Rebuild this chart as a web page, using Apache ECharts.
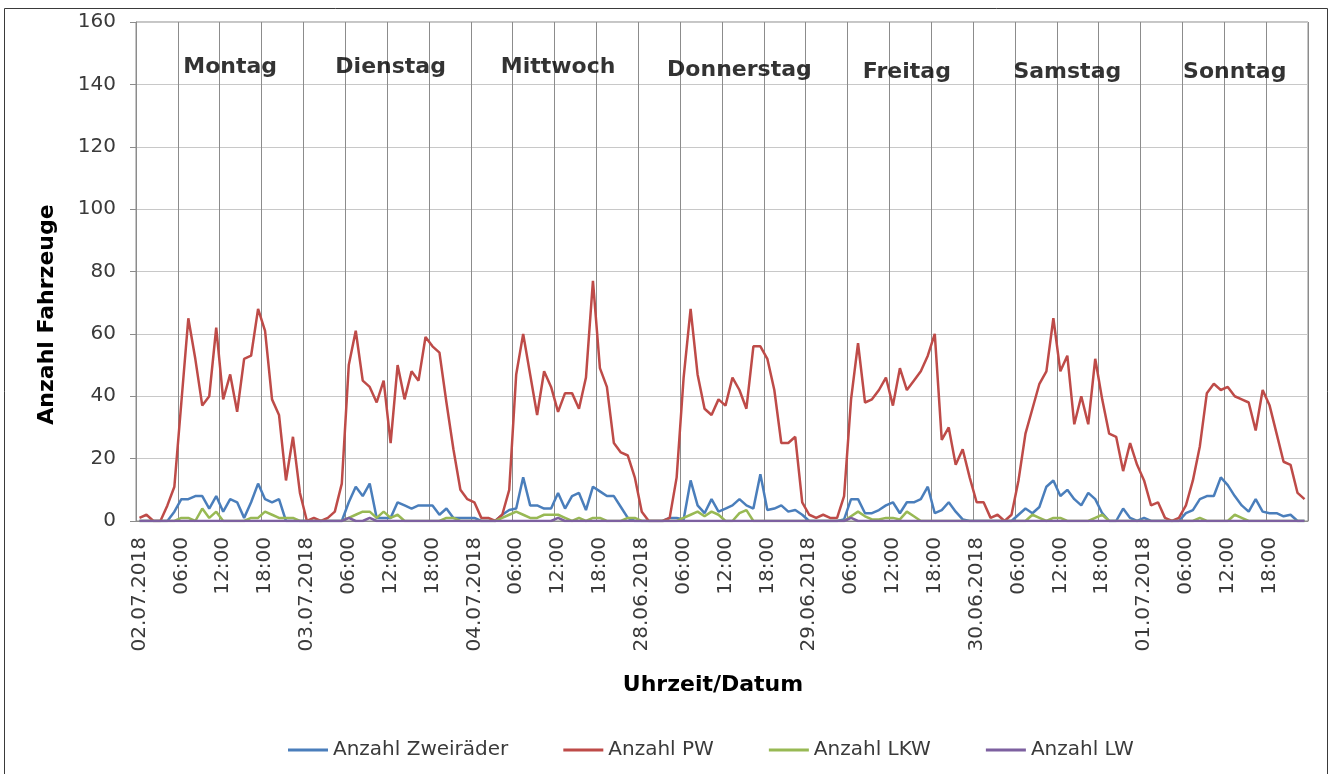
<!DOCTYPE html>
<html>
<head>
<meta charset="utf-8">
<script src="https://cdn.jsdelivr.net/npm/echarts@6/dist/echarts.min.js"></script>
<style>html,body{margin:0;padding:0;background:#fff}#chart{width:1333px;height:774px}</style>
</head>
<body>
<div id="chart"></div>
<script>
// Dates (one per day, 24 hourly values each)
const dates = ['02.07.2018','03.07.2018','04.07.2018','28.06.2018','29.06.2018','30.06.2018','01.07.2018'];
const dayNames = ['Montag','Dienstag','Mittwoch','Donnerstag','Freitag','Samstag','Sonntag'];
// anchor of each day caption in data coordinates [category index, value]
const dayNameAnchor = [[13,145.5],[36,145.5],[60,145.5],[86,144.5],[110,144],[133,144],[157,144]];
const yTicks = [0,20,40,60,80,100,120,140,160];

const zweiraeder = [
  0,0,0,0,0,3,7,7,8,8,4,8,3,7,6,1,6,12,7,6,7,0,0,0,
  0,0,0,0,0,0,6,11,8,12,1,1,1,6,5,4,5,5,5,2,4,1,1,1,
  1,0,0,0,2,3.5,4,14,5,5,4,4,9,4,8,9,3.5,11,9.5,8,8,4.5,1,0,
  0,0,0,0,1,1,0.5,13,5,2.5,7,3,4,5,7,5,4,15,3.5,4,5,3,3.5,2,
  0,0,0,0,0,0.5,7,7,2.5,2.5,3.5,5,6,2.5,6,6,7,11,2.5,3.5,6,3,0.5,0,
  0,0,0,0,0,0,2,4,2.5,4.5,11,13,8,10,7,5,9,7,2.5,0,0,4,1,0,
  1,0,0,0,0,0,2.5,3.5,7,8,8,14,11.5,8,5,3,7,3,2.5,2.5,1.5,2,0,0
];
const pw = [
  1,2,0,0,5,11,38,65,52,37,40,62,39,47,35,52,53,68,61,39,34,13,27,9,
  0,1,0,1,3,12,50,61,45,43,38,45,25,50,39,48,45,59,56,54,38,23,10,7,
  6,1,1,0,2,10,47,60,47,34,48,43,35,41,41,36,46,77,49,43,25,22,21,14,
  3,0,0,0,1,14,46,68,47,36,34,39,37,46,42,36,56,56,52,42,25,25,27,6,
  2,1,2,1,1,8,39,57,38,39,42,46,37,49,42,45,48,53,60,26,30,18,23,14,
  6,6,1,2,0,2,13,28,36,44,48,65,48,53,31,40,31,52,39,28,27,16,25,18,
  13,5,6,1,0,1,5,13,24,41,44,42,43,40,39,38,29,42,37,28,19,18,9,7
];
const lkw = [
  0,0,0,0,0,0,1,1,0,4,1,3,0,0,0,0,1,1,3,2,1,1,1,0,
  0,0,0,0,0,0,1,2,3,3,1,3,1,2,0,0,0,0,0,0,1,1,0,0,
  0,0,0,0,1,2,3,2,1,1,2,2,2,1,0,1,0,1,1,0,0,0,1,1,
  0,0,0,0,0,0,1,2,3,1.5,3,2,0,0,2.5,3.5,0,0,0,0,0,0,0,0,
  0,0,0,0,0,0,1.5,3,1.5,0.5,0.5,1,1,0.5,3,1.5,0,0,0,0,0,0,0,0,
  0,0,0,0,0,0,0,0,2,1,0,1,1,0,0,0,0,1,2,0,0,0,0,0,
  0,0,0,0,0,0,0,0,1,0,0,0,0,2,1,0,0,0,0,0,0,0,0,0
];
const lw = [
  0,0,0,0,0,0,0,0,0,0,0,0,0,0,0,0,0,0,0,0,0,0,0,0,
  0,0,0,0,0,0,1,0,0,1,0,0,0,0,0,0,0,0,0,0,0,0,0,0,
  0,0,0,0,0,0,0,0,0,0,0,0,1,0,0,0,0,0,0,0,0,0,0,0,
  0,0,0,0,0,0,0,0,0,0,0,0,0,0,0,0,0,0,0,0,0,0,0,0,
  0,0,0,0,0,0,1,0,0,0,0,0,0,0,0,0,0,0,0,0,0,0,0,0,
  0,0,0,0,0,0,0,0,0,0,0,0,0,0,0,0,0,0,0,0,0,0,0,0,
  0,0,0,0,0,0,0,0,0,0,0,0,0,0,0,0,0,0,0,0,0,0,0,0
];

const categories = [];
dates.forEach(d => { for (let h = 0; h < 24; h++) categories.push(h === 0 ? d : (h < 10 ? '0' : '') + h + ':00'); });

const FONT = 'DejaVu Sans';
const chart = echarts.init(document.getElementById('chart'));
const lineSeries = (name, data, color) => ({
  name, type: 'line', data, symbol: 'none', showSymbol: false,
  lineStyle: { color, width: 2.5 }, itemStyle: { color }, silent: true
});
chart.setOption({
  animation: false,
  backgroundColor: '#fff',
  grid: { left: 136, right: 25, top: 22, bottom: 253, show: true, borderColor: '#8c8c8c', borderWidth: 1, backgroundColor: 'transparent' },
  xAxis: {
    type: 'category', data: categories, boundaryGap: true,
    name: 'Uhrzeit/Datum', nameLocation: 'middle', nameGap: 153,
    nameTextStyle: { fontFamily: FONT, fontWeight: 'bold', fontSize: 22, color: '#000', padding: [0, 18, 0, 0] },
    axisLine: { show: true, lineStyle: { color: '#8c8c8c' } },
    axisTick: { show: false },
    axisLabel: { interval: 5, rotate: 90, margin: 16, fontFamily: FONT, fontSize: 20, color: '#3a3a3a' },
    splitLine: { show: true, interval: 5, lineStyle: { color: '#8c8c8c', width: 1 } }
  },
  yAxis: {
    type: 'value', min: yTicks[0], max: yTicks[yTicks.length - 1], interval: 20,
    name: 'Anzahl Fahrzeuge', nameLocation: 'middle', nameGap: 78,
    nameTextStyle: { fontFamily: FONT, fontWeight: 'bold', fontSize: 22, color: '#000', padding: [0, 86, 0, 0] },
    axisLine: { show: true, lineStyle: { color: '#8c8c8c' } },
    axisTick: { show: true, length: 6, lineStyle: { color: '#8c8c8c' } },
    axisLabel: { margin: 20, fontFamily: FONT, fontSize: 20, color: '#3a3a3a' },
    splitLine: { show: true, lineStyle: { color: '#c8c8c8', width: 1 } }
  },
  legend: {
    data: ['Anzahl Zweiräder', 'Anzahl PW', 'Anzahl LKW', 'Anzahl LW'],
    left: 283, top: 735, icon: 'rect', itemWidth: 40, itemHeight: 3, itemGap: 55,
    textStyle: { fontFamily: FONT, fontSize: 20, color: '#3a3a3a' }
  },
  graphic: [{
    type: 'rect', shape: { x: 4.5, y: 8.5, width: 1323, height: 800 },
    style: { fill: 'none', stroke: '#3a3a3a', lineWidth: 1 }, silent: true, z: 100
  }],
  series: [
    lineSeries('Anzahl Zweiräder', zweiraeder, '#4a7ebb'),
    lineSeries('Anzahl PW', pw, '#be4b48'),
    lineSeries('Anzahl LKW', lkw, '#98b954'),
    lineSeries('Anzahl LW', lw, '#7d60a0'),
    {
      type: 'scatter', silent: true, symbolSize: 1, itemStyle: { color: 'transparent' },
      data: dayNames.map((n, i) => ({ name: n, value: dayNameAnchor[i] })),
      label: { show: true, position: 'inside', formatter: p => p.name, fontFamily: FONT, fontWeight: 'bold', fontSize: 22, color: '#000' }
    }
  ]
});
</script>
</body>
</html>
